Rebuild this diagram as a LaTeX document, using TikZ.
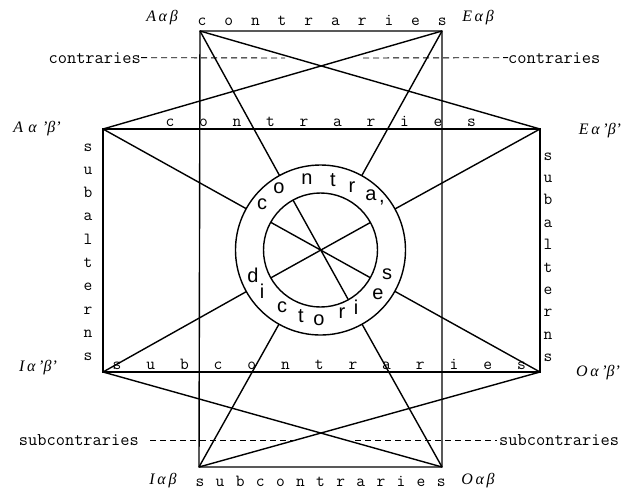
\documentclass[tikz,border=0pt]{standalone}
\usepackage{fontspec}
\setmainfont{Liberation Serif}
\newfontfamily\ringfont{Liberation Sans}
\usetikzlibrary{calc}
\begin{document}
\begin{tikzpicture}[x=1pt,y=-1pt,
  edge/.style={line width=1.4pt},
  dashline/.style={line width=0.9pt, dash pattern=on 6pt off 4pt},
  corner/.style={font=\fontsize{16}{16}\selectfont\itshape, inner sep=0pt},
  lbl/.style={font=\ttfamily\fontsize{17.9}{18}\selectfont, inner sep=0pt},
  spaced/.style={font=\ttfamily\fontsize{17}{17}\selectfont, inner sep=0pt, anchor=base},
  ring/.style={font=\ringfont\fontsize{20}{20}\selectfont, inner sep=0pt}]
\useasboundingbox (0,0) rectangle (623,491);
\fill[white] (0,0) rectangle (623,491);
% corners
\coordinate (A1) at (200,31);
\coordinate (E1) at (442,31);
\coordinate (A2) at (103,129);
\coordinate (E2) at (540,129);
\coordinate (I2) at (103,372);
\coordinate (O2) at (540,372);
\coordinate (I1) at (199,467);
\coordinate (O1) at (442,467);
\coordinate (C) at (320.5,250);
% rectangles
\draw[edge] (A1) -- (E1) -- (O1) -- (I1) -- cycle;
\draw[edge] (A2) -- (E2) -- (O2) -- (I2) -- cycle;
% cross lines
\draw[edge] (A1) -- (E2);
\draw[edge] (E1) -- (A2);
\draw[edge] (I2) -- (O1);
\draw[edge] (O2) -- (I1);
% spokes to ring
\foreach \p in {A1,E1,A2,E2,I2,O2,I1,O1}
  \draw[edge] (\p) -- ($(C)!85pt!(\p)$);
\draw[edge] (C) circle[radius=85pt];
\draw[edge] (C) circle[radius=57pt];
\draw[edge] ($(C)!57pt!(A1)$) -- ($(C)!57pt!(O1)$);
\draw[edge] ($(C)!57pt!(A2)$) -- ($(C)!57pt!(O2)$);
\draw[edge] ($(C)!57pt!(E2)$) -- ($(C)!57pt!(I2)$);
% corner labels
\node[corner] (lA1) at (162,18) {A\,α\,β};
\node[corner] (lE1) at (478,18) {E\,α\,β};
\node[corner] (lA2) at (37,129) {A\,\,α\,\,'β'};
\node[corner] (lE2) at (600,131) {E\,α\,'β'};
\node[corner] (lI2) at (38,368) {I\,α\,'β'};
\node[corner] (lO2) at (598,373) {O\,α\,'β'};
\node[corner] (lI1) at (163,481) {I\,α\,β};
\node[corner] (lO1) at (478,481) {O\,α\,β};
% spaced words
\foreach \ch [count=\i from 0] in {c,o,n,t,r,a,r,i,e,s}
  \node[spaced] (ta\i) at (202+26.7*\i,25) {\ch};
\foreach \ch [count=\i from 0] in {c,o,n,t,r,a,r,i,e,s}
  \node[spaced] (tb\i) at (170+33.5*\i,126) {\ch};
\foreach \ch [count=\i from 0] in {s,u,b,c,o,n,t,r,a,r,i,e,s}
  \node[spaced] (tc\i) at (117+33.7*\i,369) {\ch};
\foreach \ch [count=\i from 0] in {s,u,b,c,o,n,t,r,a,r,i,e,s}
  \node[spaced] (td\i) at (200+20.1*\i,486) {\ch};
\foreach \ch [count=\i from 0] in {s,u,b,a,l,t,e,r,n,s}
  \node[spaced] (tl\i) at (88,151+23.3*\i) {\ch};
\foreach \ch [count=\i from 0] in {s,u,b,a,l,t,e,r,n,s}
  \node[spaced] (tr\i) at (548,160+22.4*\i) {\ch};
% dashed labels
\node[lbl, anchor=base east] (cL) at (141,63) {contraries};
\coordinate (cLe) at (285,58);
\draw[dashline] (cL.east) -- (cLe);
\node[lbl, anchor=base west] (cR) at (508,63) {contraries};
\coordinate (cRs) at (363,58);
\draw[dashline] (cRs) -- (cR.west);
\node[lbl, anchor=base east] (sL) at (139,445) {subcontraries};
\coordinate (sLs) at (150,440);
\coordinate (sLe) at (297,440);
\draw[dashline] (sLs) -- (sLe);
\node[lbl, anchor=base west] (sR) at (499,445) {subcontraries};
\coordinate (sRs) at (355,440);
\coordinate (sRe) at (497,440);
\draw[dashline] (sRs) -- (sRe);
% ring text
\foreach \ch/\x/\y [count=\i] in {c/262/204,o/279/188,n/307/179,t/333/180,r/352/187,a/371/195,
  d/253/275,i/262/291,c/282/307,t/301/316,o/319/320,r/342/313,i/356/307,e/378/294,s/387/274}
  \node[ring] (rg\i) at (\x,\y) {\ch};
\node[ring] (rgc) at (382,203) {,};
\end{tikzpicture}
\end{document}
